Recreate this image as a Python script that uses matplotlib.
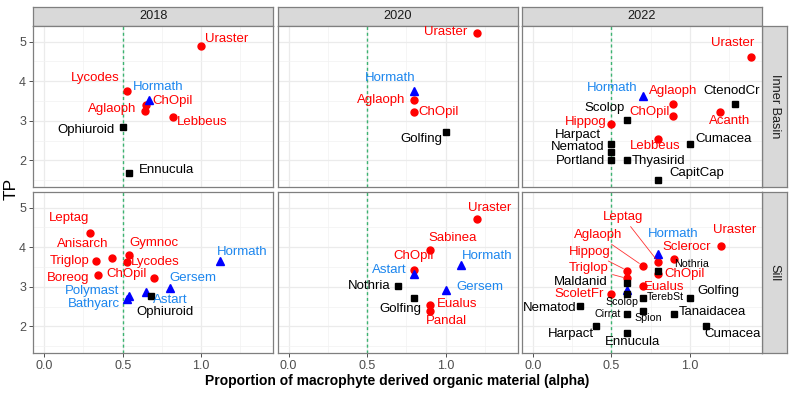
import matplotlib
matplotlib.use("Agg")
import matplotlib.pyplot as plt
from matplotlib.ticker import MultipleLocator

plt.rcParams['font.family'] = ['Liberation Sans', 'DejaVu Sans']

# ---------------- data ----------------
years = ["2018", "2020", "2022"]
basins = ["Inner Basin", "Sill"]

ib2018_species = ["Uraster", "Lycodes", "Hormath", "ChOpil", "Aglaoph", "Lebbeus", "Ophiuroid", "Ennucula"]
ib2018_alpha = [1.00, 0.53, 0.67, 0.65, 0.64, 0.82, 0.505, 0.54]
ib2018_tp = [4.90, 3.75, 3.53, 3.39, 3.25, 3.09, 2.85, 1.69]
ib2018_group = ["I", "I", "II", "I", "I", "I", "III", "III"]

ib2020_species = ["Uraster", "Hormath", "Aglaoph", "ChOpil", "Golfing"]
ib2020_alpha = [1.20, 0.80, 0.80, 0.80, 1.00]
ib2020_tp = [5.23, 3.76, 3.52, 3.22, 2.71]
ib2020_group = ["I", "II", "I", "I", "III"]

ib2022_species = ["Uraster", "Hormath", "Aglaoph", "ChOpil", "CtenodCr", "Acanth", "Scolop", "Hippog",
                  "Lebbeus", "Cumacea", "Harpact", "Nematod", "Portland", "Thyasirid", "CapitCap"]
ib2022_alpha = [1.39, 0.70, 0.89, 0.89, 1.29, 1.19, 0.60, 0.50, 0.80, 1.00, 0.50, 0.50, 0.50, 0.60, 0.80]
ib2022_tp = [4.62, 3.63, 3.42, 3.12, 3.42, 3.22, 3.02, 2.92, 2.53, 2.42, 2.41, 2.21, 2.00, 2.00, 1.51]
ib2022_group = ["I", "II", "I", "I", "III", "I", "III", "I", "I", "III", "III", "III", "III", "III", "III"]

sill2018_species = ["Leptag", "Anisarch", "Triglop", "Gymnoc", "Lycodes", "Boreog", "ChOpil", "Gersem",
                    "Hormath", "Astart", "Ophiuroid", "Polymast", "Bathyarc"]
sill2018_alpha = [0.29, 0.43, 0.33, 0.54, 0.53, 0.34, 0.70, 0.80, 1.12, 0.65, 0.68, 0.54, 0.53]
sill2018_tp = [4.37, 3.72, 3.66, 3.81, 3.63, 3.30, 3.23, 2.96, 3.66, 2.87, 2.77, 2.76, 2.69]
sill2018_group = ["I", "I", "I", "I", "I", "I", "I", "II", "II", "II", "III", "II", "II"]

sill2020_species = ["Uraster", "Sabinea", "ChOpil", "Astart", "Hormath", "Gersem", "Nothria", "Golfing",
                    "Eualus", "Pandal"]
sill2020_alpha = [1.20, 0.90, 0.80, 0.80, 1.10, 1.00, 0.70, 0.80, 0.90, 0.90]
sill2020_tp = [4.72, 3.92, 3.42, 3.33, 3.55, 2.93, 3.03, 2.72, 2.53, 2.40]
sill2020_group = ["I", "I", "I", "II", "II", "II", "III", "III", "I", "I"]

sill2022_species = ["Uraster", "Hormath", "Sclerocr", "Leptag", "Aglaoph", "Nothria", "ChOpil", "Hippog",
                    "Triglop", "Maldanid", "Eualus", "ScoletFr", "", "Scolop", "TerebSt", "Golfing",
                    "Nematod", "Cirrat", "Spion", "Tanaidacea", "Harpact", "Ennucula", "Cumacea"]
sill2022_alpha = [1.20, 0.80, 0.90, 0.80, 0.70, 0.80, 0.80, 0.60, 0.60, 0.60, 0.70, 0.50, 0.60, 0.60,
                  0.70, 1.00, 0.30, 0.60, 0.70, 0.90, 0.40, 0.60, 1.10]
sill2022_tp = [4.02, 3.83, 3.71, 3.62, 3.53, 3.41, 3.32, 3.41, 3.21, 3.10, 3.03, 2.82, 2.92, 2.81,
               2.72, 2.72, 2.51, 2.32, 2.40, 2.32, 2.02, 1.82, 2.02]
sill2022_group = ["I", "II", "I", "I", "I", "III", "I", "I", "I", "III", "I", "I", "II", "III",
                  "III", "III", "III", "III", "III", "III", "III", "III", "III"]

panels = {
    ("2018", "Inner Basin"): (ib2018_species, ib2018_alpha, ib2018_tp, ib2018_group),
    ("2020", "Inner Basin"): (ib2020_species, ib2020_alpha, ib2020_tp, ib2020_group),
    ("2022", "Inner Basin"): (ib2022_species, ib2022_alpha, ib2022_tp, ib2022_group),
    ("2018", "Sill"): (sill2018_species, sill2018_alpha, sill2018_tp, sill2018_group),
    ("2020", "Sill"): (sill2020_species, sill2020_alpha, sill2020_tp, sill2020_group),
    ("2022", "Sill"): (sill2022_species, sill2022_alpha, sill2022_tp, sill2022_group),
}

x_ticks = [0.0, 0.5, 1.0]
x_tick_labels = ["0.0", "0.5", "1.0"]
y_ticks = [2, 3, 4, 5]
y_tick_labels = ["2", "3", "4", "5"]
threshold = 0.5

# ---------------- styles / layout ----------------
group_style = {
    "I": dict(marker="o", color="#FF0000", ms=5.0, label_color="#FF0000"),
    "II": dict(marker="^", color="#0000FF", ms=5.8, label_color="#1C86EE"),
    "III": dict(marker="s", color="#000000", ms=4.5, label_color="#000000"),
}

# label offsets in pixels (dx right, dy up)
label_layout = {
    ("2018", "Inner Basin"): {
        "Uraster": (25.3, 6.4), "Lycodes": (-32.6, 13.6), "Hormath": (8.5, 13.3), "ChOpil": (26.8, 4.6),
        "Aglaoph": (-32.3, 2.3), "Lebbeus": (28.8, -4.7), "Ophiuroid": (-37.2, -3), "Ennucula": (37.5, 2.7)},
    ("2020", "Inner Basin"): {
        "Uraster": (-31.3, 0.8), "Hormath": (-24.1, 12.7), "Aglaoph": (-32.7, 0.6), "ChOpil": (24.3, -0.4),
        "Golfing": (-23.8, -6.4)},
    ("2022", "Inner Basin"): {
        "Uraster": (-17.9, 14), "Hormath": (-30.2, 8.3), "Aglaoph": (0.3, 13.6), "CtenodCr": (-4, 13.6),
        "Scolop": (-22.2, 11.6), "ChOpil": (-23.2, 4.3), "Acanth": (10.4, -8.7), "Hippog": (-26, 1.7),
        "Harpact": (-33.5, 9.3), "Nematod": (-33.8, 4.6), "Portland": (-31, -0.7), "Lebbeus": (-2.8, -7),
        "Cumacea": (33.3, 5), "Thyasirid": (31.5, -0.7), "CapitCap": (38.7, 6.7)},
    ("2018", "Sill"): {
        "Leptag": (-20.8, 15), "Anisarch": (-29, 14.3), "Triglop": (-26.5, 0), "Gymnoc": (24.7, 11.7),
        "Lycodes": (28, 0.3), "Boreog": (-29, -3.3), "ChOpil": (-28, 3.7), "Gersem": (22.9, 10.4),
        "Hormath": (22.5, 9), "Astart": (24.2, -8), "Ophiuroid": (14.2, -16.3), "Polymast": (-37, 5),
        "Bathyarc": (-33.3, -4.7)},
    ("2020", "Sill"): {
        "Uraster": (12.5, 10.7), "Sabinea": (22.4, 12.4), "ChOpil": (-0.8, 14.3), "Astart": (-24.5, 4),
        "Hormath": (25.5, 8.6), "Gersem": (34.3, 3), "Nothria": (-29.3, 0), "Golfing": (-13.9, -10.7),
        "Eualus": (27.5, 1.7), "Pandal": (16.7, -10.3)},
    ("2022", "Sill"): {
        "Uraster": (13.7, 16.7), "Hormath": (14.9, 20), "Sclerocr": (12.8, 12), "Leptag": (-35.6, 45.6),
        "Aglaoph": (-45, 31), "Nothria": (33.2, 6.4), "ChOpil": (26.5, 0), "Hippog": (-37.3, 19),
        "Triglop": (-38.5, 10.4), "Maldanid": (-46.8, 1.3), "Eualus": (21.5, -1.7), "ScoletFr": (-32.4, 0),
        "Scolop": (-4.7, -7.6), "TerebSt": (22.8, 1), "Golfing": (28.5, 7.3), "Nematod": (-30.2, -2),
        "Cirrat": (-19.7, -0.3), "Spion": (5.6, -7.6), "Tanaidacea": (38.1, 1.7), "Harpact": (-24.5, -8),
        "Ennucula": (5.3, -8.3), "Cumacea": (27.2, -8)},
}
small_labels = {("2022", "Sill"): {"Nothria", "Scolop", "Cirrat", "TerebSt", "Spion"}}
segment_labels = {("2022", "Sill"): {"Leptag", "Aglaoph", "Hippog", "Triglop"}}

W, H = 789, 395
fig = plt.figure(figsize=(W / 100, H / 100), dpi=100)

def px_axes(x0, y0, x1, y1, z=0):
    return fig.add_axes([x0 / W, 1 - y1 / H, (x1 - x0) / W, (y1 - y0) / H], zorder=z)

col_x = [(33.3, 273.3), (277.7, 517.7), (522.0, 762.0)]
row_y = [(25.7, 187.0), (191.7, 353.0)]
border = "#7F7F7F"
XLIM = (-0.07, 1.46)
YLIM = (1.325, 5.405)

for ri, basin in enumerate(basins):
    for ci, year in enumerate(years):
        x0, x1 = col_x[ci]
        y0, y1 = row_y[ri]
        ax = px_axes(x0, y0, x1, y1, z=1)
        ax.set_xlim(*XLIM)
        ax.set_ylim(*YLIM)
        ax.set_xticks(x_ticks)
        ax.set_yticks(y_ticks)
        ax.xaxis.set_minor_locator(MultipleLocator(0.25))
        ax.yaxis.set_minor_locator(MultipleLocator(0.5))
        ax.grid(True, which="major", color="#EBEBEB", lw=0.9, zorder=0)
        ax.grid(True, which="minor", color="#F2F2F2", lw=0.5, zorder=0)
        ax.set_axisbelow(True)
        for s in ax.spines.values():
            s.set_color(border)
            s.set_linewidth(0.9)
        ax.tick_params(which="minor", length=0)
        ax.tick_params(which="major", color="#333333", length=3.2, width=0.6,
                       labelsize=9, labelcolor="#4D4D4D", pad=2)
        if ci == 0:
            ax.set_yticklabels(y_tick_labels)
        else:
            ax.tick_params(axis="y", length=0, labelleft=False)
        if ri == 1:
            ax.set_xticklabels(x_tick_labels)
        else:
            ax.tick_params(axis="x", length=0, labelbottom=False)

        ax.axvline(threshold, color="#3CB371", lw=1.0, ls=(0, (2.2, 2)), zorder=1)

        names, xs, ys, groups = panels[(year, basin)]
        for g in ["I", "II", "III"]:
            st = group_style[g]
            gx = [x for x, gg in zip(xs, groups) if gg == g]
            gy = [y for y, gg in zip(ys, groups) if gg == g]
            ax.plot(gx, gy, ls="none", marker=st["marker"], color=st["color"],
                    ms=st["ms"], mec=st["color"], zorder=3)

        lay = label_layout[(year, basin)]
        smalls = small_labels.get((year, basin), set())
        segs = segment_labels.get((year, basin), set())
        for n, x, y, g in zip(names, xs, ys, groups):
            if not n or n not in lay:
                continue
            dx, dy = lay[n]
            col = group_style[g]["label_color"]
            fs = 7.7 if n in smalls else 9.5
            kw = {}
            if n in segs:
                kw["arrowprops"] = dict(arrowstyle="-", color=col, lw=0.6, alpha=0.8,
                                        shrinkA=1, shrinkB=3)
            ax.annotate(n, xy=(x, y), xytext=(dx, dy), textcoords="offset pixels",
                        ha="center", va="center", fontsize=fs, color=col, zorder=4, **kw)

# top strips
for ci, year in enumerate(years):
    x0, x1 = col_x[ci]
    sax = px_axes(x0, 6.7, x1, 25.7, z=0)
    sax.set_facecolor("#D9D9D9")
    sax.set_xticks([]); sax.set_yticks([])
    for s in sax.spines.values():
        s.set_color(border); s.set_linewidth(0.9)
    sax.text(0.5, 0.5, year, ha="center", va="center", fontsize=9.2, color="#1A1A1A",
             transform=sax.transAxes)

# right strips
for ri, basin in enumerate(basins):
    y0, y1 = row_y[ri]
    sax = px_axes(762.0, y0, 787.0, y1, z=0)
    sax.set_facecolor("#D9D9D9")
    sax.set_xticks([]); sax.set_yticks([])
    for s in sax.spines.values():
        s.set_color(border); s.set_linewidth(0.9)
    sax.text(0.5, 0.5, basin, ha="center", va="center", fontsize=9.2, color="#1A1A1A",
             rotation=-90, transform=sax.transAxes)

fig.text(11 / W, 1 - 189 / H, "TP", rotation=90, ha="center", va="center", fontsize=12.5, color="#000000")
fig.text((33.3 + 762) / 2 / W, 1 - 381.5 / H, "Proportion of macrophyte derived organic material (alpha)",
         ha="center", va="center", fontsize=10, fontweight="bold", color="#000000")

fig.savefig("out.png", dpi=100)
